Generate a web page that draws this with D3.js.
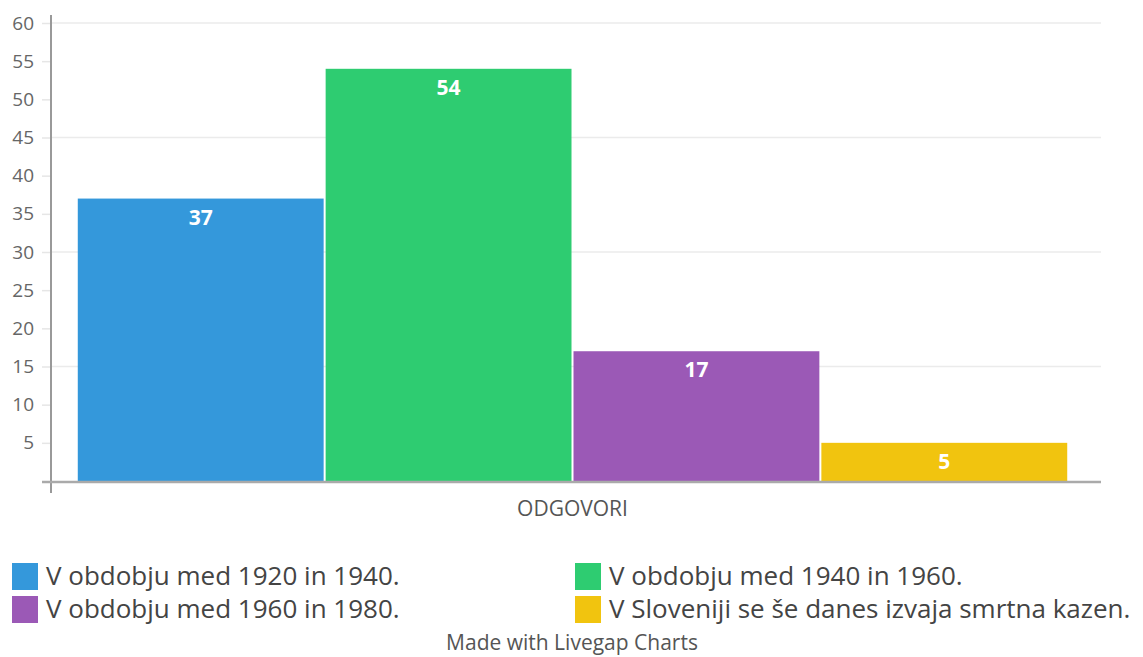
<!DOCTYPE html>
<html>
<head>
<meta charset="utf-8">
<script src="https://cdn.jsdelivr.net/npm/d3@7"></script>
<style>
  body { margin: 0; background: #fff; font-family: "Open Sans", sans-serif; }
  svg { display: block; }
</style>
</head>
<body>
<svg id="chart" width="1143" height="657"></svg>
<script>
const categories = [
  'V obdobju med 1920 in 1940.',
  'V obdobju med 1940 in 1960.',
  'V obdobju med 1960 in 1980.',
  'V Sloveniji se še danes izvaja smrtna kazen.'
];
const values = [37, 54, 17, 5];
const colors = ['#3498db', '#2ecc71', '#9b59b6', '#f1c40f'];
const yTicks = [5, 10, 15, 20, 25, 30, 35, 40, 45, 50, 55, 60];
const gridTicks = [15, 30, 45, 60];
const groupLabel = 'ODGOVORI';

const svg = d3.select('#chart');
const plotLeft = 51, plotRight = 1101, plotTop = 23, plotBottom = 481;

const y = d3.scaleLinear().domain([0, 60]).range([plotBottom, plotTop]);
// bar group sits inside the plot with ~26px outer space
const xGroup = d3.scaleBand().domain([groupLabel]).range([plotLeft, 1094]).paddingInner(0).paddingOuter(0.026);
const x = d3.scaleBand().domain(categories)
  .range([xGroup(groupLabel), xGroup(groupLabel) + xGroup.bandwidth()]).padding(0);

// gridlines
svg.append('g')
  .selectAll('line')
  .data(gridTicks)
  .join('line')
  .attr('x1', plotLeft).attr('x2', plotRight)
  .attr('y1', d => y(d)).attr('y2', d => y(d))
  .attr('stroke', '#ebebeb').attr('stroke-width', 1.5);

// y axis
const yAxis = svg.append('g')
  .attr('transform', `translate(${plotLeft},0)`)
  .call(d3.axisLeft(y).tickValues(yTicks).tickSize(9).tickPadding(8));
yAxis.select('.domain').remove();
yAxis.selectAll('.tick line').attr('stroke', '#e6e6e6').attr('stroke-width', 1.5);
yAxis.selectAll('.tick text').attr('fill', '#666').style('font-size', '19px').style('font-family', 'Open Sans');
svg.append('line')
  .attr('x1', plotLeft).attr('x2', plotLeft).attr('y1', 15).attr('y2', plotBottom + 12)
  .attr('stroke', '#999').attr('stroke-width', 2);

// bars
svg.append('g')
  .selectAll('rect')
  .data(values)
  .join('rect')
  .attr('x', (d, i) => x(categories[i]) + 1)
  .attr('width', x.bandwidth() - 2)
  .attr('y', d => y(d))
  .attr('height', d => y(0) - y(d))
  .attr('fill', (d, i) => colors[i]);

svg.append('g')
  .selectAll('text')
  .data(values)
  .join('text')
  .attr('x', (d, i) => x(categories[i]) + x.bandwidth() / 2)
  .attr('y', d => y(d) + 26)
  .attr('text-anchor', 'middle')
  .attr('fill', '#fff')
  .style('font-size', '21px')
  .style('font-weight', 'bold')
  .text(d => d);

// x axis line
svg.append('line')
  .attr('x1', plotLeft - 9).attr('x2', plotRight).attr('y1', plotBottom + 1).attr('y2', plotBottom + 1)
  .attr('stroke', '#aaa').attr('stroke-width', 2.5);

svg.append('text')
  .attr('x', xGroup(groupLabel) + xGroup.bandwidth() / 2)
  .attr('y', 516)
  .attr('text-anchor', 'middle')
  .attr('fill', '#555')
  .style('font-size', '21px')
  .text(groupLabel);

// legend
const legend = svg.append('g')
  .selectAll('g')
  .data(categories)
  .join('g')
  .attr('transform', (d, i) => `translate(${i % 2 === 0 ? 12 : 575},${563 + Math.floor(i / 2) * 33})`);
legend.append('rect')
  .attr('width', 26).attr('height', 27)
  .attr('fill', (d, i) => colors[i]);
legend.append('text')
  .attr('x', 34).attr('y', 22)
  .attr('fill', '#444')
  .style('font-size', '26px')
  .text(d => d);

svg.append('text')
  .attr('x', 572).attr('y', 650)
  .attr('text-anchor', 'middle')
  .attr('fill', '#555')
  .style('font-size', '21px')
  .text('Made with Livegap Charts');
</script>
</body>
</html>
